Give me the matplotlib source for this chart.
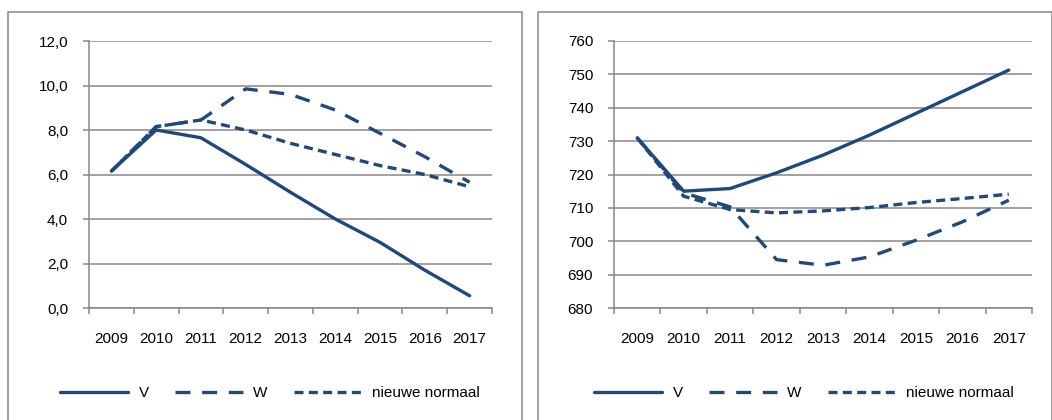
import matplotlib.pyplot as plt
from matplotlib.patches import Rectangle
from matplotlib.ticker import FixedLocator

plt.rcParams['font.family'] = ['Liberation Sans', 'DejaVu Sans']
plt.rcParams['font.size'] = 11

years = ['2009', '2010', '2011', '2012', '2013', '2014', '2015', '2016', '2017']

# left panel
left_v = [6.15, 8.0, 7.65, 6.45, 5.2, 4.0, 2.95, 1.7, 0.55]
left_w = [6.15, 8.15, 8.45, 9.85, 9.6, 8.9, 7.85, 6.8, 5.65]
left_nn = [6.15, 8.15, 8.45, 8.0, 7.4, 6.9, 6.4, 6.0, 5.45]

# right panel
right_v = [731.0, 715.0, 715.8, 720.5, 725.8, 731.8, 738.3, 744.8, 751.3]
right_w = [731.0, 714.5, 710.3, 694.5, 692.8, 695.3, 700.3, 705.8, 712.3]
right_nn = [731.0, 713.5, 709.5, 708.5, 709.1, 710.1, 711.6, 712.8, 714.1]

labels = ['V', 'W', 'nieuwe normaal']
line_color = '#1f497d'
grid_color = '#878787'

fig = plt.figure(figsize=(10.52, 4.2), dpi=100)

# panel borders (chart areas)
for x0 in [8, 538]:
    fig.patches.append(Rectangle((x0 / 1052, -0.1), 514 / 1052, (420 - 12) / 420 + 0.1,
                                 transform=fig.transFigure, fill=False,
                                 edgecolor=grid_color, linewidth=1.1))


def draw_panel(ax, v, w, nn, ylim, yticks, fmt):
    x = range(len(years))
    ax.plot(x, v, color=line_color, lw=2.4, solid_capstyle='round', label=labels[0])
    ax.plot(x, w, color=line_color, lw=2.4, dashes=(4.5, 3.5), dash_capstyle='butt', label=labels[1])
    ax.plot(x, nn, color=line_color, lw=2.4, dashes=(2.7, 1.6), dash_capstyle='butt', label=labels[2])
    ax.set_xlim(-0.5, len(years) - 0.5)
    ax.set_ylim(*ylim)
    ax.set_yticks(yticks)
    ax.set_yticklabels([fmt(t) for t in yticks])
    ax.xaxis.set_major_locator(FixedLocator([i - 0.5 for i in range(len(years) + 1)]))
    ax.xaxis.set_major_formatter(plt.NullFormatter())
    ax.xaxis.set_minor_locator(FixedLocator(list(x)))
    ax.set_xticklabels(years, minor=True)
    ax.tick_params(axis='x', which='major', length=4, width=1.1, color=grid_color)
    ax.tick_params(axis='x', which='minor', length=0, pad=17)
    ax.tick_params(axis='y', length=4, width=1.1, color=grid_color, pad=11)
    ax.grid(axis='y', color=grid_color, lw=1.1)
    ax.set_axisbelow(True)
    for s in ['top', 'right']:
        ax.spines[s].set_visible(False)
    for s in ['left', 'bottom']:
        ax.spines[s].set_color(grid_color)
        ax.spines[s].set_linewidth(1.1)


ax1 = fig.add_axes([89 / 1052, 112 / 420, 403 / 1052, 267 / 420])
draw_panel(ax1, left_v, left_w, left_nn, (0, 12), [0, 2, 4, 6, 8, 10, 12],
           lambda t: f"{t:.1f}".replace('.', ','))

ax2 = fig.add_axes([614 / 1052, 112 / 420, 418 / 1052, 267 / 420])
draw_panel(ax2, right_v, right_w, right_nn, (680, 760), list(range(680, 761, 10)),
           lambda t: f"{t:d}")

for ax, cx in [(ax1, 270 / 1052), (ax2, 804 / 1052)]:
    ax.legend(loc='center', bbox_to_anchor=(cx, 1 - 393 / 420), bbox_transform=fig.transFigure,
              ncol=3, frameon=False, handlelength=4.45, handletextpad=0.7, columnspacing=1.7)

fig.savefig('out.png', dpi=100)
